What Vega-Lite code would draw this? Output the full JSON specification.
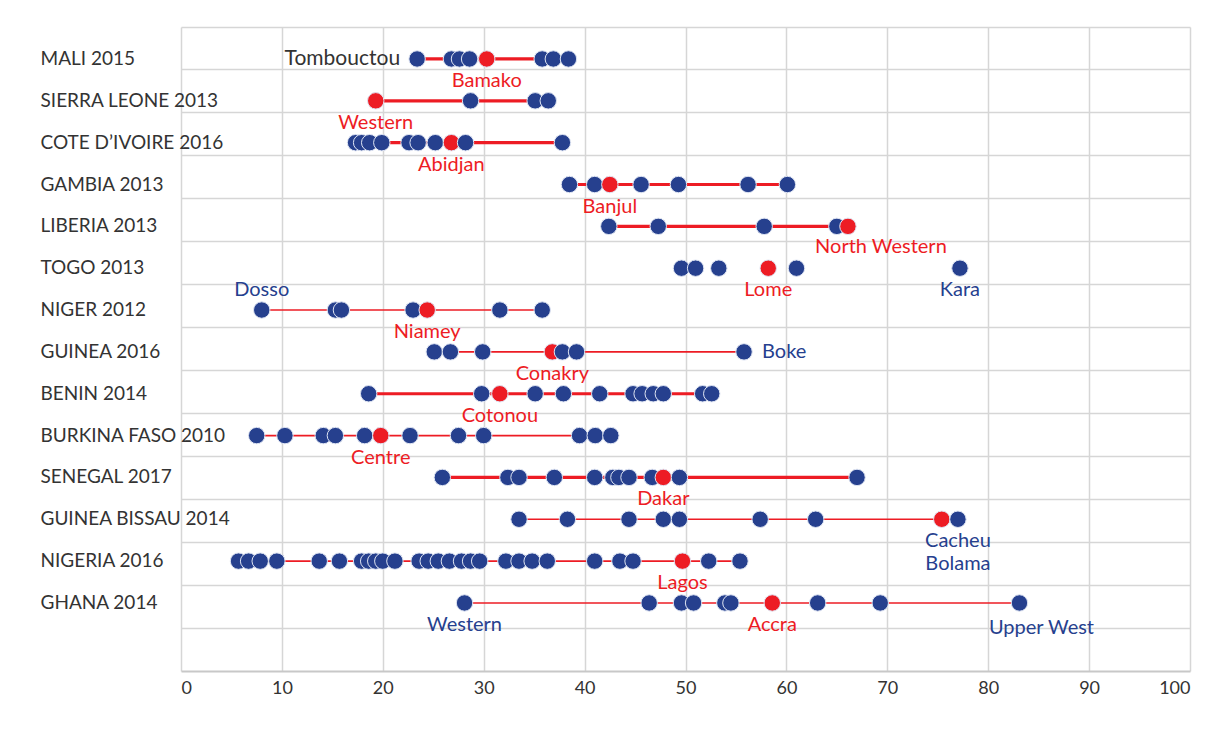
{
  "$schema": "https://vega.github.io/schema/vega-lite/v6.json",
  "width": 1009,
  "height": 644,
  "autosize": "none",
  "padding": {"left": 181, "top": 27, "right": 18, "bottom": 62},
  "background": "white",
  "config": {"view": {"stroke": null}, "font": "Lato"},
  "datasets": {
    "grid": [
      {"g": "r01"}, {"g": "r02"}, {"g": "r03"}, {"g": "r04"}, {"g": "r05"},
      {"g": "r06"}, {"g": "r07"}, {"g": "r08"}, {"g": "r09"}, {"g": "r10"},
      {"g": "r11"}, {"g": "r12"}, {"g": "r13"}, {"g": "r14"}, {"g": "r15"}
    ],
    "pts": [
      {"c": "MALI 2015", "v": 23.4, "t": "region", "label": "Tombouctou"},
      {"c": "MALI 2015", "v": 26.8, "t": "region"},
      {"c": "MALI 2015", "v": 27.6, "t": "region"},
      {"c": "MALI 2015", "v": 28.6, "t": "region"},
      {"c": "MALI 2015", "v": 30.3, "t": "capital", "label": "Bamako"},
      {"c": "MALI 2015", "v": 35.8, "t": "region"},
      {"c": "MALI 2015", "v": 36.9, "t": "region"},
      {"c": "MALI 2015", "v": 38.4, "t": "region"},

      {"c": "SIERRA LEONE 2013", "v": 19.3, "t": "capital", "label": "Western"},
      {"c": "SIERRA LEONE 2013", "v": 28.7, "t": "region"},
      {"c": "SIERRA LEONE 2013", "v": 35.1, "t": "region"},
      {"c": "SIERRA LEONE 2013", "v": 36.4, "t": "region"},

      {"c": "COTE D’IVOIRE 2016", "v": 17.3, "t": "region"},
      {"c": "COTE D’IVOIRE 2016", "v": 17.9, "t": "region"},
      {"c": "COTE D’IVOIRE 2016", "v": 18.7, "t": "region"},
      {"c": "COTE D’IVOIRE 2016", "v": 19.9, "t": "region"},
      {"c": "COTE D’IVOIRE 2016", "v": 22.6, "t": "region"},
      {"c": "COTE D’IVOIRE 2016", "v": 23.5, "t": "region"},
      {"c": "COTE D’IVOIRE 2016", "v": 25.2, "t": "region"},
      {"c": "COTE D’IVOIRE 2016", "v": 26.8, "t": "capital", "label": "Abidjan"},
      {"c": "COTE D’IVOIRE 2016", "v": 28.2, "t": "region"},
      {"c": "COTE D’IVOIRE 2016", "v": 37.8, "t": "region"},

      {"c": "GAMBIA 2013", "v": 38.5, "t": "region"},
      {"c": "GAMBIA 2013", "v": 41.0, "t": "region"},
      {"c": "GAMBIA 2013", "v": 42.5, "t": "capital", "label": "Banjul"},
      {"c": "GAMBIA 2013", "v": 45.6, "t": "region"},
      {"c": "GAMBIA 2013", "v": 49.3, "t": "region"},
      {"c": "GAMBIA 2013", "v": 56.2, "t": "region"},
      {"c": "GAMBIA 2013", "v": 60.1, "t": "region"},

      {"c": "LIBERIA 2013", "v": 42.4, "t": "region"},
      {"c": "LIBERIA 2013", "v": 47.3, "t": "region"},
      {"c": "LIBERIA 2013", "v": 57.8, "t": "region"},
      {"c": "LIBERIA 2013", "v": 65.0, "t": "region"},
      {"c": "LIBERIA 2013", "v": 66.1, "t": "capital", "label": "North Western"},

      {"c": "TOGO 2013", "v": 49.6, "t": "region"},
      {"c": "TOGO 2013", "v": 51.0, "t": "region"},
      {"c": "TOGO 2013", "v": 53.3, "t": "region"},
      {"c": "TOGO 2013", "v": 58.2, "t": "capital", "label": "Lome"},
      {"c": "TOGO 2013", "v": 61.0, "t": "region"},
      {"c": "TOGO 2013", "v": 77.2, "t": "region", "label": "Kara"},

      {"c": "NIGER 2012", "v": 8.0, "t": "region", "label": "Dosso"},
      {"c": "NIGER 2012", "v": 15.3, "t": "region"},
      {"c": "NIGER 2012", "v": 15.9, "t": "region"},
      {"c": "NIGER 2012", "v": 23.0, "t": "region"},
      {"c": "NIGER 2012", "v": 24.4, "t": "capital", "label": "Niamey"},
      {"c": "NIGER 2012", "v": 31.6, "t": "region"},
      {"c": "NIGER 2012", "v": 35.8, "t": "region"},

      {"c": "GUINEA 2016", "v": 25.1, "t": "region"},
      {"c": "GUINEA 2016", "v": 26.7, "t": "region"},
      {"c": "GUINEA 2016", "v": 29.9, "t": "region"},
      {"c": "GUINEA 2016", "v": 36.8, "t": "capital", "label": "Conakry"},
      {"c": "GUINEA 2016", "v": 37.8, "t": "region"},
      {"c": "GUINEA 2016", "v": 39.2, "t": "region"},
      {"c": "GUINEA 2016", "v": 55.8, "t": "region", "label": "Boke"},

      {"c": "BENIN 2014", "v": 18.6, "t": "region"},
      {"c": "BENIN 2014", "v": 29.8, "t": "region"},
      {"c": "BENIN 2014", "v": 31.6, "t": "capital", "label": "Cotonou"},
      {"c": "BENIN 2014", "v": 35.1, "t": "region"},
      {"c": "BENIN 2014", "v": 37.9, "t": "region"},
      {"c": "BENIN 2014", "v": 41.5, "t": "region"},
      {"c": "BENIN 2014", "v": 44.8, "t": "region"},
      {"c": "BENIN 2014", "v": 45.7, "t": "region"},
      {"c": "BENIN 2014", "v": 46.8, "t": "region"},
      {"c": "BENIN 2014", "v": 47.8, "t": "region"},
      {"c": "BENIN 2014", "v": 51.7, "t": "region"},
      {"c": "BENIN 2014", "v": 52.6, "t": "region"},

      {"c": "BURKINA FASO 2010", "v": 7.5, "t": "region"},
      {"c": "BURKINA FASO 2010", "v": 10.3, "t": "region"},
      {"c": "BURKINA FASO 2010", "v": 14.1, "t": "region"},
      {"c": "BURKINA FASO 2010", "v": 15.3, "t": "region"},
      {"c": "BURKINA FASO 2010", "v": 18.2, "t": "region"},
      {"c": "BURKINA FASO 2010", "v": 19.8, "t": "capital", "label": "Centre"},
      {"c": "BURKINA FASO 2010", "v": 22.7, "t": "region"},
      {"c": "BURKINA FASO 2010", "v": 27.5, "t": "region"},
      {"c": "BURKINA FASO 2010", "v": 30.0, "t": "region"},
      {"c": "BURKINA FASO 2010", "v": 39.5, "t": "region"},
      {"c": "BURKINA FASO 2010", "v": 41.05, "t": "region"},
      {"c": "BURKINA FASO 2010", "v": 42.6, "t": "region"},

      {"c": "SENEGAL 2017", "v": 25.9, "t": "region"},
      {"c": "SENEGAL 2017", "v": 32.4, "t": "region"},
      {"c": "SENEGAL 2017", "v": 33.5, "t": "region"},
      {"c": "SENEGAL 2017", "v": 37.0, "t": "region"},
      {"c": "SENEGAL 2017", "v": 41.0, "t": "region"},
      {"c": "SENEGAL 2017", "v": 42.8, "t": "region"},
      {"c": "SENEGAL 2017", "v": 43.4, "t": "region"},
      {"c": "SENEGAL 2017", "v": 44.4, "t": "region"},
      {"c": "SENEGAL 2017", "v": 46.7, "t": "region"},
      {"c": "SENEGAL 2017", "v": 47.8, "t": "capital", "label": "Dakar"},
      {"c": "SENEGAL 2017", "v": 49.4, "t": "region"},
      {"c": "SENEGAL 2017", "v": 67.0, "t": "region"},

      {"c": "GUINEA BISSAU 2014", "v": 33.5, "t": "region"},
      {"c": "GUINEA BISSAU 2014", "v": 38.3, "t": "region"},
      {"c": "GUINEA BISSAU 2014", "v": 44.4, "t": "region"},
      {"c": "GUINEA BISSAU 2014", "v": 47.8, "t": "region"},
      {"c": "GUINEA BISSAU 2014", "v": 49.4, "t": "region"},
      {"c": "GUINEA BISSAU 2014", "v": 57.4, "t": "region"},
      {"c": "GUINEA BISSAU 2014", "v": 62.9, "t": "region"},
      {"c": "GUINEA BISSAU 2014", "v": 75.4, "t": "capital"},
      {"c": "GUINEA BISSAU 2014", "v": 77.0, "t": "region", "label": "Cacheu", "label2": "Bolama"},

      {"c": "NIGERIA 2016", "v": 5.7, "t": "region"},
      {"c": "NIGERIA 2016", "v": 6.7, "t": "region"},
      {"c": "NIGERIA 2016", "v": 7.85, "t": "region"},
      {"c": "NIGERIA 2016", "v": 9.5, "t": "region"},
      {"c": "NIGERIA 2016", "v": 13.7, "t": "region"},
      {"c": "NIGERIA 2016", "v": 15.7, "t": "region"},
      {"c": "NIGERIA 2016", "v": 17.9, "t": "region"},
      {"c": "NIGERIA 2016", "v": 18.6, "t": "region"},
      {"c": "NIGERIA 2016", "v": 19.3, "t": "region"},
      {"c": "NIGERIA 2016", "v": 20.0, "t": "region"},
      {"c": "NIGERIA 2016", "v": 21.2, "t": "region"},
      {"c": "NIGERIA 2016", "v": 23.6, "t": "region"},
      {"c": "NIGERIA 2016", "v": 24.5, "t": "region"},
      {"c": "NIGERIA 2016", "v": 25.5, "t": "region"},
      {"c": "NIGERIA 2016", "v": 26.6, "t": "region"},
      {"c": "NIGERIA 2016", "v": 27.8, "t": "region"},
      {"c": "NIGERIA 2016", "v": 28.7, "t": "region"},
      {"c": "NIGERIA 2016", "v": 29.6, "t": "region"},
      {"c": "NIGERIA 2016", "v": 32.2, "t": "region"},
      {"c": "NIGERIA 2016", "v": 33.5, "t": "region"},
      {"c": "NIGERIA 2016", "v": 34.8, "t": "region"},
      {"c": "NIGERIA 2016", "v": 36.3, "t": "region"},
      {"c": "NIGERIA 2016", "v": 41.0, "t": "region"},
      {"c": "NIGERIA 2016", "v": 43.5, "t": "region"},
      {"c": "NIGERIA 2016", "v": 44.8, "t": "region"},
      {"c": "NIGERIA 2016", "v": 49.7, "t": "capital", "label": "Lagos"},
      {"c": "NIGERIA 2016", "v": 52.3, "t": "region"},
      {"c": "NIGERIA 2016", "v": 55.4, "t": "region"},

      {"c": "GHANA 2014", "v": 28.1, "t": "region", "label": "Western"},
      {"c": "GHANA 2014", "v": 46.4, "t": "region"},
      {"c": "GHANA 2014", "v": 49.6, "t": "region"},
      {"c": "GHANA 2014", "v": 50.8, "t": "region"},
      {"c": "GHANA 2014", "v": 53.9, "t": "region"},
      {"c": "GHANA 2014", "v": 54.5, "t": "region"},
      {"c": "GHANA 2014", "v": 58.6, "t": "capital", "label": "Accra"},
      {"c": "GHANA 2014", "v": 63.1, "t": "region"},
      {"c": "GHANA 2014", "v": 69.3, "t": "region"},
      {"c": "GHANA 2014", "v": 83.1, "t": "region", "label": "Upper West"}
    ]
  },
  "layer": [
    {
      "data": {"name": "grid"},
      "mark": {"type": "point", "opacity": 0},
      "encoding": {
        "y": {
          "field": "g",
          "type": "nominal",
          "scale": {"type": "band", "paddingInner": 0, "paddingOuter": 0},
          "axis": {
            "orient": "right",
            "grid": true,
            "gridColor": "#d6d6d6",
            "gridWidth": 1.5,
            "bandPosition": 0,
            "labels": false,
            "ticks": false,
            "domain": false,
            "title": null
          }
        }
      }
    },
    {
      "data": {"name": "pts"},
      "encoding": {
        "x": {
          "field": "v",
          "type": "quantitative",
          "scale": {"domain": [0, 100], "nice": false},
          "axis": {
            "values": [0, 10, 20, 30, 40, 50, 60, 70, 80, 90, 100],
            "grid": true,
            "gridColor": "#d6d6d6",
            "gridWidth": 1.5,
            "domainColor": "#c8c8c8",
            "domainWidth": 2,
            "ticks": false,
            "labelPadding": 8,
            "labelFont": "Lato",
            "labelFontSize": 18,
            "labelColor": "#333333",
            "title": null
          }
        },
        "y": {
          "field": "c",
          "type": "nominal",
          "scale": {
            "type": "band",
            "paddingInner": 0,
            "paddingOuter": 0.695,
            "align": 0.19,
            "domain": ["MALI 2015", "SIERRA LEONE 2013", "COTE D’IVOIRE 2016", "GAMBIA 2013", "LIBERIA 2013", "TOGO 2013", "NIGER 2012", "GUINEA 2016", "BENIN 2014", "BURKINA FASO 2010", "SENEGAL 2017", "GUINEA BISSAU 2014", "NIGERIA 2016", "GHANA 2014"]
          },
          "axis": {
            "orient": "left",
            "grid": false,
            "domain": false,
            "ticks": false,
            "tickSize": 0,
            "labelAlign": "left",
            "labelBaseline": "middle",
            "labelPadding": 141,
            "labelLimit": 300,
            "labelOverlap": false,
            "labelFont": "Lato",
            "labelFontSize": 19,
            "labelColor": "#333333",
            "title": null
          }
        }
      },
      "layer": [
        {
          "transform": [{"filter": "indexof(['MALI 2015','SIERRA LEONE 2013','COTE D’IVOIRE 2016','GAMBIA 2013','LIBERIA 2013','BENIN 2014','SENEGAL 2017'], datum.c) >= 0"}],
          "mark": {"type": "line", "color": "#ed1c24", "strokeWidth": 3.2},
          "encoding": {"detail": {"field": "c"}}
        },
        {
          "transform": [{"filter": "indexof(['NIGER 2012','GUINEA 2016','BURKINA FASO 2010','GUINEA BISSAU 2014','NIGERIA 2016','GHANA 2014'], datum.c) >= 0"}],
          "mark": {"type": "line", "color": "#ed1c24", "strokeWidth": 1.6},
          "encoding": {"detail": {"field": "c"}}
        },
        {
          "mark": {"type": "point", "shape": "circle", "filled": true, "opacity": 1, "size": 270, "stroke": "#dfe5f3", "strokeWidth": 1},
          "encoding": {
            "color": {"field": "t", "type": "nominal", "scale": {"domain": ["region", "capital"], "range": ["#26408e", "#ed1c24"]}, "legend": null}
          }
        },
        {
          "transform": [{"filter": "isValid(datum.label) && indexof(['Tombouctou','Dosso','Boke','North Western','Upper West'], datum.label) < 0"}],
          "mark": {"type": "text", "font": "Lato", "fontSize": 20, "baseline": "middle", "align": "center", "dy": 22},
          "encoding": {
            "text": {"field": "label"},
            "color": {"field": "t", "type": "nominal", "legend": null}
          }
        },
        {
          "transform": [{"filter": "isValid(datum.label2)"}],
          "mark": {"type": "text", "font": "Lato", "fontSize": 20, "baseline": "middle", "align": "center", "dy": 45},
          "encoding": {
            "text": {"field": "label2"},
            "color": {"field": "t", "type": "nominal", "legend": null}
          }
        },
        {
          "transform": [{"filter": "datum.label == 'North Western'"}],
          "mark": {"type": "text", "font": "Lato", "fontSize": 20, "baseline": "middle", "align": "center", "dy": 21, "dx": 33},
          "encoding": {"text": {"field": "label"}, "color": {"field": "t", "type": "nominal", "legend": null}}
        },
        {
          "transform": [{"filter": "datum.label == 'Upper West'"}],
          "mark": {"type": "text", "font": "Lato", "fontSize": 20, "baseline": "middle", "align": "center", "dy": 25, "dx": 22},
          "encoding": {"text": {"field": "label"}, "color": {"field": "t", "type": "nominal", "legend": null}}
        },
        {
          "transform": [{"filter": "datum.label == 'Dosso'"}],
          "mark": {"type": "text", "font": "Lato", "fontSize": 20, "baseline": "middle", "align": "center", "dy": -20},
          "encoding": {"text": {"field": "label"}, "color": {"field": "t", "type": "nominal", "legend": null}}
        },
        {
          "transform": [{"filter": "datum.label == 'Boke'"}],
          "mark": {"type": "text", "font": "Lato", "fontSize": 20, "baseline": "middle", "align": "left", "dx": 18},
          "encoding": {"text": {"field": "label"}, "color": {"field": "t", "type": "nominal", "legend": null}}
        },
        {
          "transform": [{"filter": "datum.label == 'Tombouctou'"}],
          "mark": {"type": "text", "font": "Lato", "fontSize": 21, "baseline": "middle", "align": "right", "dx": -17, "color": "#333333"},
          "encoding": {"text": {"field": "label"}}
        }
      ]
    }
  ],
  "resolve": {"scale": {"y": "independent"}, "axis": {"y": "independent"}}
}
